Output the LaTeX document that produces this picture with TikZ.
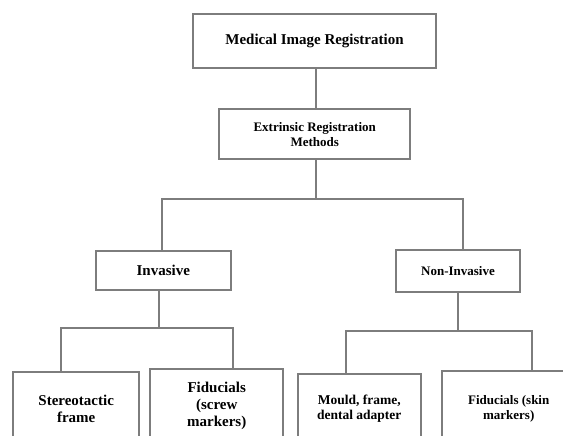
\documentclass[tikz,border=0pt]{standalone}
\usepackage{fontspec}
\setmainfont{Liberation Serif}
\definecolor{boxgray}{RGB}{125,125,125}
\tikzset{
  box/.style={draw=boxgray, line width=2pt, fill=white, align=center,
    inner sep=2pt, font=\bfseries\fontsize{15}{16.7}\selectfont},
  smallbox/.style={box, font=\bfseries\fontsize{13}{14.8}\selectfont},
  link/.style={draw=boxgray, line width=2pt},
}
\begin{document}
\begin{tikzpicture}[x=1pt, y=-1pt]
\useasboundingbox (0,0) rectangle (563,436);
\clip (0,0) rectangle (563,436);

% === Top levels ===
\node[box, minimum width=243, minimum height=54] (mir) at (314.5,41) {Medical Image Registration};
\node[smallbox, minimum width=191, minimum height=50] (ext) at (314.7,134.2) {Extrinsic Registration\\Methods};

% === Second level ===
\node[box, minimum width=135, minimum height=39] (inv) at (163.3,270.3) {Invasive};
\node[smallbox, minimum width=124, minimum height=42] (noninv) at (458,270.8) {Non-Invasive};

% === Leaves (cut off by the page) ===
\node[box, anchor=north, minimum width=126, minimum height=75] (stereo) at (76.2,370.7) {Stereotactic\\frame};
\node[box, anchor=north, minimum width=133, minimum height=73] (screw) at (216.7,368.3) {Fiducials\\(screw\\markers)};
\node[smallbox, anchor=north, minimum width=123, minimum height=68, font=\bfseries\fontsize{13.5}{15}\selectfont] (mould) at (359.2,373.3) {Mould, frame,\\dental adapter};
\node[smallbox, anchor=north, minimum width=134, minimum height=75] (skin) at (508.7,370) {Fiducials (skin\\markers)};

% === Connectors ===
\coordinate (busA) at (316,199);
\coordinate (busL1) at (61,328.3);
\coordinate (busL2) at (233.3,328.3);
\coordinate (busR1) at (346,331);
\coordinate (busR2) at (531.7,331);

\draw[link] (mir.south -| busA) -- (ext.north -| busA);
\draw[link] (ext.south -| busA) -- (busA);
\draw[link] (inv.north -| 162,0) |- (busA) -| (noninv.north -| 463.3,0);

\draw[link] (inv.south -| 159.3,0) -- (159.3,328.3);
\draw[link] (busL1 |- stereo.north) -- (busL1) -- (busL2) -- (busL2 |- screw.north);

\draw[link] (noninv.south -| 457.7,0) -- (457.7,331);
\draw[link] (busR1 |- mould.north) -- (busR1) -- (busR2) -- (busR2 |- skin.north);

\end{tikzpicture}
\end{document}
